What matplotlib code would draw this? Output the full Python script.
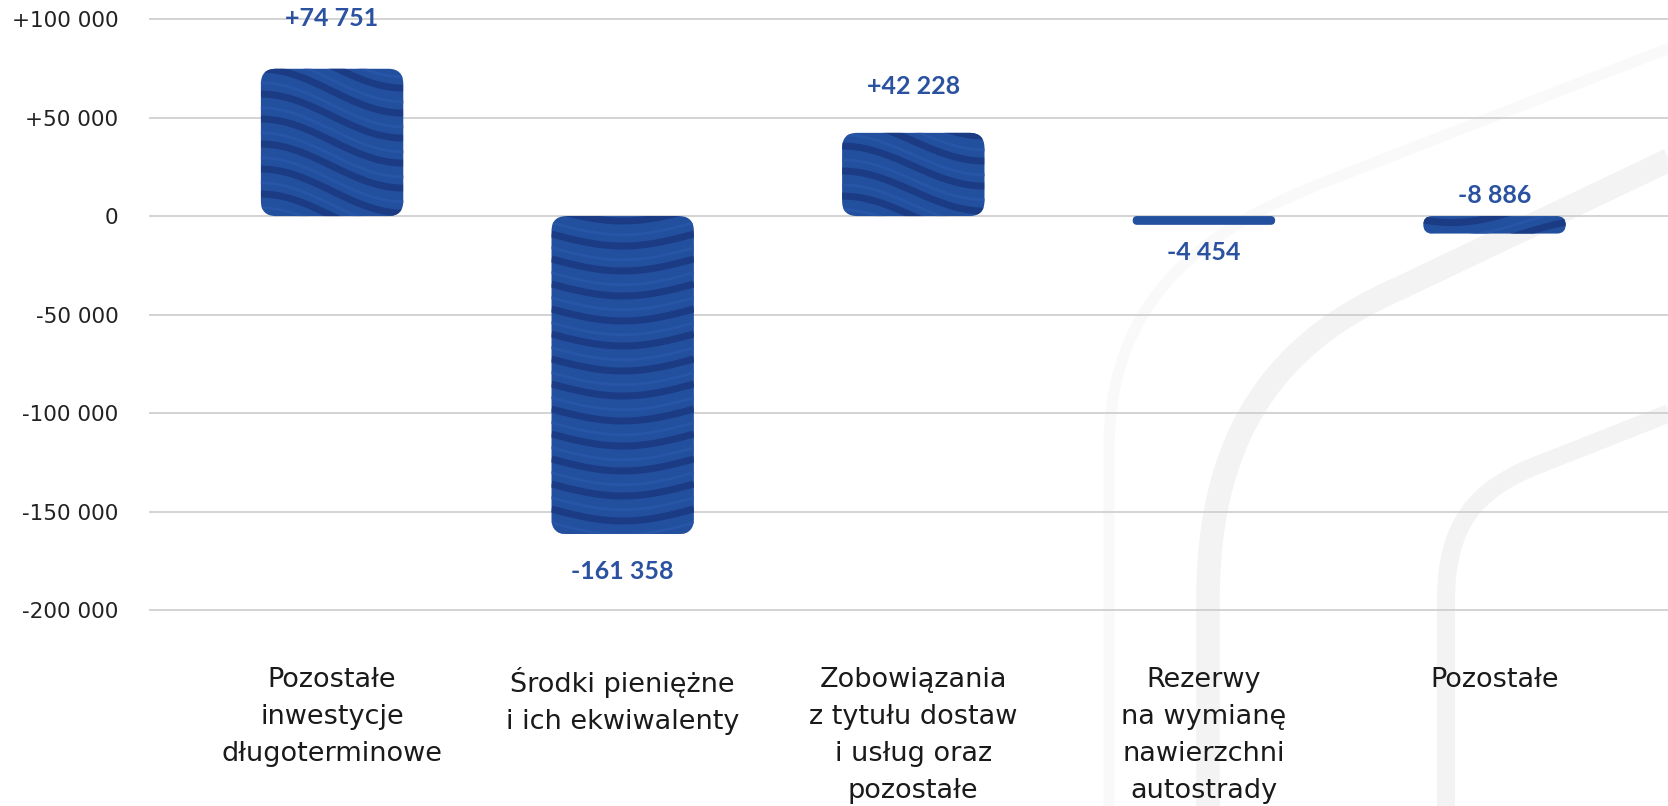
import numpy as np
import matplotlib.pyplot as plt
from matplotlib.patches import FancyBboxPatch, PathPatch
from matplotlib.path import Path
from matplotlib.transforms import blended_transform_factory

categories = [
    "Pozostałe\ninwestycje\ndługoterminowe",
    "Środki pieniężne\ni ich ekwiwalenty",
    "Zobowiązania\nz tytułu dostaw\ni usług oraz\npozostałe",
    "Rezerwy\nna wymianę\nnawierzchni\nautostrady",
    "Pozostałe",
]
values = [74751, -161358, 42228, -4454, -8886]
value_labels = ["+74 751", "-161 358", "+42 228", "-4 454", "-8 886"]
yticks = [100000, 50000, 0, -50000, -100000, -150000, -200000]
ytick_labels = ["+100 000", "+50 000", "0", "-50 000", "-100 000", "-150 000", "-200 000"]

# styling
BASE = "#23509e"
DARK = "#1b3b84"
LIGHT = "#2756a8"
LABEL_BLUE = "#2a52a0"
BAR_W = 0.49
label_above = [True, False, True, False, True]
label_off_px = [50, 37, 46, 28, 21]
wave_phase = [0.0, 1.5, 0.0, 0.0, 1.2]
wave_amp_px = [22, 12, 20, 12, 14]

plt.rcParams['font.family'] = ['DejaVu Sans']

W, H = 1668, 806
fig = plt.figure(figsize=(W / 100, H / 100), dpi=100)
ax = fig.add_axes([149 / W, 1 - 620 / H, 1 - 149 / W, 620 / H])
ax.set_xlim(-0.63, 4.597)
ax.set_ylim(-205000, 109650)

# faint decorative road arcs in the background (pixel coords, y down)
def road(pts, color="#f3f3f3", lw=16):
    verts = [(x, H - y) for x, y in pts]
    codes = [Path.MOVETO, Path.LINETO, Path.CURVE4, Path.CURVE4, Path.CURVE4, Path.LINETO]
    p = PathPatch(Path(verts, codes), transform=None, fill=False,
                  ec=color, lw=lw, capstyle='butt', zorder=0)
    fig.add_artist(p)

road([(1109, 820), (1109, 450), (1109, 300), (1200, 230), (1330, 180), (1690, 40)],
     color="#f9f9f9", lw=8)
road([(1208, 820), (1208, 600), (1208, 430), (1280, 340), (1400, 288), (1690, 150)], lw=17)
road([(1446, 820), (1446, 600), (1446, 520), (1480, 490), (1530, 468), (1690, 405)], lw=13)

ax.patch.set_alpha(0)
for s in ax.spines.values():
    s.set_visible(False)
ax.set_yticks(yticks)
ax.set_yticklabels(ytick_labels, fontsize=15.5, color="#222222")
ax.tick_params(axis='y', length=0, pad=22)
ax.set_xticks([])
ax.grid(axis='y', color="#c8c8c8", lw=1.1, zorder=1)
ax.set_axisbelow(True)

fig.canvas.draw()
t = ax.transData
px_x = t.transform((1, 0))[0] - t.transform((0, 0))[0]
px_y = t.transform((0, 1))[1] - t.transform((0, 0))[1]
ypu = 1 / px_y  # data units per pixel (y)
xpu = 1 / px_x

for i, v in enumerate(values):
    x0 = i - BAR_W / 2
    y0 = min(0, v)
    h = abs(v)
    h_px = h * px_y
    r_px = min(15, h_px / 2)
    bar = FancyBboxPatch((x0, y0), BAR_W, h,
                         boxstyle=f"round,pad=0,rounding_size={r_px * xpu}",
                         mutation_aspect=ypu / xpu, fc=BASE, ec='none', zorder=3)
    ax.add_patch(bar)

    # wave texture clipped to the bar
    if h_px > 15:
        xs = np.linspace(x0, x0 + BAR_W, 120)
        tt = (xs - x0) / BAR_W
        amp = wave_amp_px[i] * ypu
        sp = 25 * ypu
        wave = amp * np.cos(np.pi * (tt - wave_phase[i]))
        n = int(h / sp) + 6
        for k in range(-4, n):
            base_y = y0 + k * sp
            ln2, = ax.plot(xs, base_y + wave + sp * 0.45, color=LIGHT, lw=2, zorder=4)
            ln2.set_clip_path(bar)
            ln, = ax.plot(xs, base_y + wave, color=DARK, lw=5, zorder=4, solid_capstyle='butt')
            ln.set_clip_path(bar)

    if label_above[i]:
        ty, off = max(0, v), label_off_px[i]
    else:
        ty, off = min(0, v), -label_off_px[i]
    ax.annotate(value_labels[i], (i, ty), xytext=(0, off), textcoords='offset pixels',
                ha='center', va='center', fontsize=18, fontweight='bold', color=LABEL_BLUE,
                family=['Lato', 'DejaVu Sans'], zorder=5)

trans = blended_transform_factory(ax.transData, ax.transAxes)
for i, c in enumerate(categories):
    ax.text(i, -47 / 620, c, transform=trans, ha='center', va='top', fontsize=19.5,
            color="#1a1a1a", linespacing=1.55, clip_on=False)

fig.savefig("out.png", dpi=100)
